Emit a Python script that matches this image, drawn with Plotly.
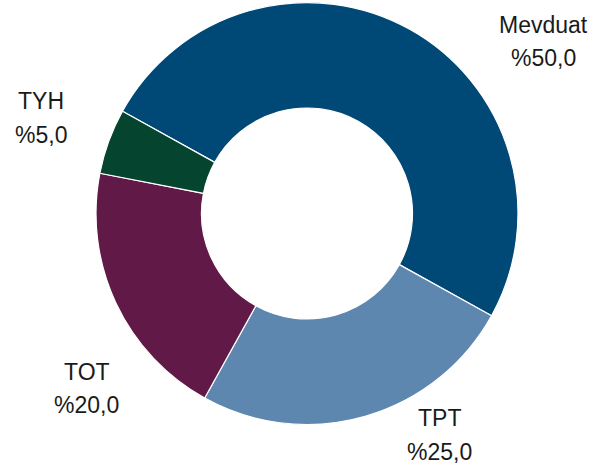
import plotly.graph_objects as go

labels = ["Mevduat", "TPT", "TOT", "TYH"]
values = [50.0, 25.0, 20.0, 5.0]
colors = ["#004876", "#5E87B0", "#611A47", "#05442F"]

W, H = 604, 470
CX, CY, R = 307, 213.5, 211

fig = go.Figure()
fig.add_trace(go.Pie(
    labels=labels,
    values=values,
    sort=False,
    direction="clockwise",
    rotation=-61,
    hole=0.5,
    marker=dict(colors=colors, line=dict(color="white", width=1.2)),
    textinfo="none",
    hoverinfo="label+percent",
    showlegend=False,
    domain=dict(x=[(CX - R) / W, (CX + R) / W],
                y=[(H - CY - R) / H, (H - CY + R) / H]),
))

# label block positions (pixel centers: name line, value line)
label_pos = {
    "Mevduat": (543, 25, 58),
    "TPT": (440, 418, 452),
    "TOT": (87, 372, 405),
    "TYH": (41, 101, 135),
}

def fmt(v):
    return "%" + f"{v:.1f}".replace(".", ",")

total = sum(values)
for lab, val in zip(labels, values):
    x, y1, y2 = label_pos[lab]
    for txt, yy in ((lab, y1), (fmt(100 * val / total), y2)):
        fig.add_annotation(
            x=x / W, y=1 - yy / H, xref="paper", yref="paper",
            text=txt, showarrow=False, xanchor="center", yanchor="middle",
            font=dict(family="Liberation Sans, Arial, sans-serif", size=23, color="#1a1a1a"),
        )

fig.update_layout(
    width=W, height=H,
    margin=dict(l=0, r=0, t=0, b=0),
    paper_bgcolor="white",
    plot_bgcolor="white",
)

fig.write_html("out.html", config={"displayModeBar": False},
               post_script="document.body.style.margin='0px';")
